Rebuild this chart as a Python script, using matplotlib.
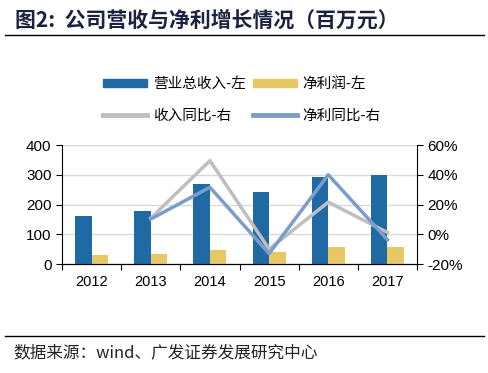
import matplotlib.pyplot as plt
from matplotlib.lines import Line2D
from matplotlib.patches import Patch
import numpy as np

plt.rcParams['font.family'] = ['Liberation Sans', 'Noto Sans CJK SC', 'DejaVu Sans']

# ---- data ----
years = ["2012", "2013", "2014", "2015", "2016", "2017"]
revenue = [160, 179, 269, 242, 294, 299]          # 营业总收入 (百万元)
net_profit = [31, 35, 48, 41, 58, 56]             # 净利润 (百万元)
rev_growth = [None, 10.8, 49.5, -10.0, 21.6, 1.2]  # 收入同比 (%)
profit_growth = [None, 10.2, 31.6, -13.0, 40.0, -3.7]  # 净利同比 (%)

C_BLUE = "#1F6AA5"
C_YELLOW = "#E6C964"
C_GRAY = "#BFBFBF"
C_LINE = "#7C9CCC"
CJK = ['Noto Sans CJK SC', 'DejaVu Sans']

fig = plt.figure(figsize=(4.89, 3.73), dpi=100)

# title and separators
fig.text(0.03, 0.945, "图2:  公司营收与净利增长情况（百万元）", family=CJK,
         fontsize=15, fontweight='bold', color="#1B2240", va='center')
fig.add_artist(Line2D([0.01, 0.99], [0.905, 0.905], color='black', lw=1))
fig.add_artist(Line2D([0.01, 0.99], [0.099, 0.099], color='black', lw=1))
fig.text(0.028, 0.053, "数据来源：wind、广发证券发展研究中心", family=CJK,
         fontsize=12, color="#222222", va='center')

ax = fig.add_axes([0.1268, 0.2922, 0.726, 0.319])
x = np.arange(len(years))
w = 0.28
ax.bar(x - w / 2, revenue, w, color=C_BLUE, zorder=3)
ax.bar(x + w / 2, net_profit, w, color=C_YELLOW, zorder=3)
ax.set_xlim(-0.5, len(years) - 0.5)
ax.set_ylim(0, 400)
ax.set_yticks([0, 100, 200, 300, 400])
ax.yaxis.grid(True, color="#D9D9D9", lw=1, zorder=0)
ax.set_axisbelow(True)
ax.set_xticks(np.arange(-0.5, len(years), 1.0))
ax.set_xticklabels([])
ax.set_xticks(x, minor=True)
ax.set_xticklabels(years, minor=True)
ax.tick_params(axis='x', which='minor', length=0, pad=8, labelsize=10.5)
ax.tick_params(axis='x', which='major', length=4, direction='out')
ax.tick_params(axis='y', length=4, direction='out', labelsize=11)
ax.spines['top'].set_visible(False)
ax.spines['right'].set_visible(False)

ax2 = ax.twinx()
xs = x[1:]
ax2.plot(xs, rev_growth[1:], color=C_GRAY, lw=2.5, zorder=4)
ax2.plot(xs, profit_growth[1:], color=C_LINE, lw=2.5, zorder=5)
ax2.set_ylim(-20, 60)
ax2.set_yticks([-20, 0, 20, 40, 60])
ax2.set_yticklabels([f"{v}%" for v in [-20, 0, 20, 40, 60]])
ax2.tick_params(axis='y', length=4, direction='out', labelsize=11)
ax2.spines['top'].set_visible(False)
ax2.spines['left'].set_visible(False)

handles = [Patch(color=C_BLUE), Patch(color=C_YELLOW),
           Line2D([], [], color=C_GRAY, lw=3.5), Line2D([], [], color=C_LINE, lw=3.5)]
labels = ["营业总收入-左", "净利润-左", "收入同比-右", "净利同比-右"]
fig.legend([handles[0], handles[2], handles[1], handles[3]],
           [labels[0], labels[2], labels[1], labels[3]],
           ncol=2, loc='center', bbox_to_anchor=(0.495, 0.733), frameon=False,
           prop={'family': CJK, 'size': 10.5}, handlelength=3.0, handleheight=0.5,
           columnspacing=0.5, handletextpad=0.4, labelspacing=1.2)

fig.savefig("out.png", dpi=100)
